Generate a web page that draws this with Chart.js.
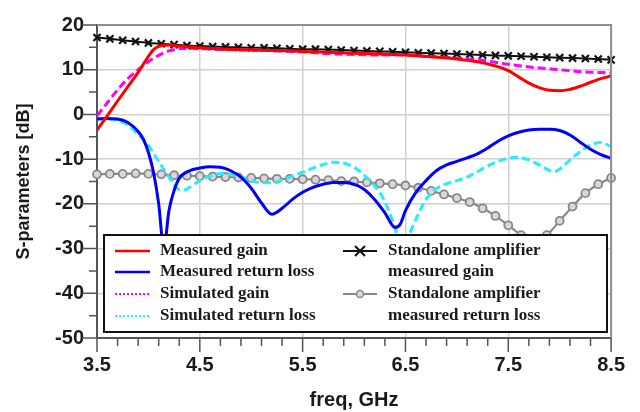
<!DOCTYPE html>
<html>
<head>
<meta charset="utf-8">
<script src="https://cdn.jsdelivr.net/npm/chart.js@4.4.1/dist/chart.umd.min.js"></script>
<style>
  html, body { margin: 0; padding: 0; background: #fff; }
</style>
</head>
<body>
<canvas id="sparChart" width="640" height="412"></canvas>
<script>
// series names (legend order)
const seriesNames = ['Measured gain', 'Measured return loss', 'Simulated gain', 'Simulated return loss',
  'Standalone amplifier measured gain', 'Standalone amplifier measured return loss'];

// measured gain (red)
const gainFreq = [3.5, 3.6, 3.7, 3.8, 3.9, 4.0, 4.05, 4.1, 4.2, 4.3, 4.5, 4.75, 5.0, 5.25, 5.5, 5.75, 6.0, 6.25, 6.5, 6.75,
  7.0, 7.2, 7.35, 7.5, 7.6, 7.7, 7.8, 7.9, 8.0, 8.1, 8.2, 8.3, 8.4, 8.5];
const gainMeas = [-3.5, -0.3, 3.0, 6.2, 9.4, 13.0, 14.5, 15.2, 15.5, 15.3, 14.9, 14.6, 14.4, 14.3, 14.1, 13.9, 13.7, 13.5, 13.3, 12.9,
  12.4, 11.8, 11.0, 9.8, 8.4, 7.0, 6.0, 5.4, 5.3, 5.6, 6.3, 7.2, 8.0, 8.6];

// measured return loss (blue)
const rlFreq = [3.5, 3.6, 3.7, 3.8, 3.9, 3.95, 4.0, 4.05, 4.1, 4.15, 4.2, 4.25, 4.3, 4.4, 4.5, 4.6, 4.7, 4.8, 4.9, 5.0,
  5.1, 5.2, 5.3, 5.4, 5.5, 5.6, 5.7, 5.8, 5.9, 6.0, 6.1, 6.2, 6.3, 6.4, 6.45, 6.5, 6.6, 6.7, 6.8, 6.9,
  7.0, 7.1, 7.2, 7.3, 7.4, 7.5, 7.6, 7.7, 7.8, 7.9, 8.0, 8.1, 8.2, 8.3, 8.4, 8.5];
const rlMeas = [-1.0, -0.9, -1.0, -1.8, -3.8, -5.5, -8.5, -13.0, -20.0, -30.0, -21.5, -17.0, -14.3, -12.6, -12.0, -11.7, -11.8, -12.6, -14.0, -16.5,
  -19.8, -22.3, -21.0, -19.0, -17.4, -16.3, -15.6, -15.2, -15.2, -15.6, -16.8, -19.0, -22.0, -25.3, -24.5, -21.5, -17.5, -14.8, -12.6, -11.3,
  -10.5, -9.7, -8.8, -7.5, -6.0, -4.8, -4.0, -3.5, -3.3, -3.3, -3.6, -4.6, -6.2, -7.8, -9.0, -9.8];

// simulated gain (magenta)
const simGainFreq = [3.5, 3.6, 3.7, 3.8, 3.9, 4.0, 4.1, 4.2, 4.3, 4.4, 4.5, 4.75, 5.0, 5.25, 5.5, 5.75, 6.0, 6.25, 6.5, 6.75,
  7.0, 7.25, 7.5, 7.75, 8.0, 8.25, 8.5];
const simGain = [-0.3, 2.6, 5.5, 8.0, 10.0, 11.8, 13.2, 14.2, 14.7, 14.8, 14.7, 14.5, 14.4, 14.2, 14.0, 13.6, 13.4, 13.3, 13.3, 12.9,
  12.6, 12.1, 11.2, 10.5, 10.0, 9.5, 9.3];

// simulated return loss (cyan)
const simRlFreq = [3.5, 3.6, 3.7, 3.8, 3.9, 4.0, 4.1, 4.2, 4.3, 4.35, 4.4, 4.5, 4.6, 4.7, 4.8, 4.9, 5.0, 5.1, 5.2, 5.3,
  5.4, 5.5, 5.6, 5.7, 5.8, 5.9, 6.0, 6.1, 6.2, 6.3, 6.4, 6.45, 6.5, 6.6, 6.7, 6.8, 6.9, 7.0, 7.1, 7.2,
  7.3, 7.4, 7.5, 7.6, 7.7, 7.8, 7.9, 7.95, 8.0, 8.1, 8.2, 8.3, 8.4, 8.5];
const simRl = [-1.0, -1.0, -1.3, -2.3, -4.5, -7.0, -10.5, -14.0, -16.8, -16.9, -16.3, -14.8, -13.8, -13.2, -13.4, -14.0, -14.8, -15.3, -15.3, -14.6,
  -13.8, -12.9, -12.0, -11.2, -10.7, -10.9, -11.8, -13.6, -16.0, -19.5, -25.5, -29.0, -28.5, -23.5, -19.0, -16.6, -15.5, -14.8, -14.0, -12.8,
  -11.5, -10.5, -9.8, -9.6, -10.2, -11.3, -12.5, -12.8, -12.2, -10.2, -8.3, -6.8, -6.3, -7.2];

// standalone amplifier (black X / grey circles), one marker per sample
const stdFreq = [3.5, 3.625, 3.75, 3.875, 4.0, 4.125, 4.25, 4.375, 4.5, 4.625, 4.75, 4.875, 5.0, 5.125, 5.25, 5.375, 5.5, 5.625, 5.75, 5.875,
  6.0, 6.125, 6.25, 6.375, 6.5, 6.625, 6.75, 6.875, 7.0, 7.125, 7.25, 7.375, 7.5, 7.625, 7.75, 7.875, 8.0, 8.125, 8.25, 8.375, 8.5];
const stdGain = [17.2, 16.9, 16.6, 16.3, 16.0, 15.8, 15.6, 15.4, 15.3, 15.2, 15.1, 15.0, 14.9, 14.9, 14.8, 14.7, 14.6, 14.6, 14.5, 14.4,
  14.3, 14.2, 14.1, 14.0, 13.9, 13.8, 13.7, 13.6, 13.5, 13.4, 13.3, 13.2, 13.1, 13.0, 12.9, 12.8, 12.7, 12.6, 12.5, 12.4, 12.2];
const stdRl = [-13.4, -13.3, -13.3, -13.2, -13.3, -13.4, -13.6, -13.7, -13.8, -13.9, -14.0, -14.1, -14.2, -14.3, -14.4, -14.4, -14.5, -14.6, -14.7, -14.9,
  -15.0, -15.2, -15.4, -15.6, -15.9, -16.4, -17.1, -17.9, -18.7, -19.6, -21.0, -22.7, -24.8, -27.0, -28.8, -27.0, -23.8, -20.6, -17.6, -15.6, -14.2];

// axis ticks
const xTickVals = [3.5, 4.5, 5.5, 6.5, 7.5, 8.5];
const yMin = -50, yMax = 20, yStep = 10;

const toPoints = (xs, ys) => xs.map((x, i) => ({ x: x, y: ys[i] }));

function line(label, xs, ys, color, extra) {
  return Object.assign({
    label: label,
    data: toPoints(xs, ys),
    borderColor: color,
    backgroundColor: color,
    borderWidth: 3,
    pointRadius: 0,
    fill: false,
    cubicInterpolationMode: 'monotone'
  }, extra || {});
}

// legend box, frame and minor ticks
const chartExtras = {
  id: 'chartExtras',
  afterDraw(chart) {
    const ctx = chart.ctx;
    const a = chart.chartArea;
    const xs = chart.scales.x, ys = chart.scales.y;
    ctx.save();

    // top and right edge of the plot box
    ctx.strokeStyle = '#8e8e8e';
    ctx.lineWidth = 2;
    ctx.beginPath();
    ctx.moveTo(a.left, a.top);
    ctx.lineTo(a.right, a.top);
    ctx.lineTo(a.right, a.bottom);
    ctx.stroke();

    // tick marks, outside
    ctx.strokeStyle = '#555';
    ctx.lineWidth = 1.5;
    ctx.beginPath();
    for (let i = 0; i <= 25; i++) {
      const px = xs.getPixelForValue(3.5 + i * 0.2);
      ctx.moveTo(px, a.bottom);
      ctx.lineTo(px, a.bottom + (i % 5 === 0 ? 14 : 8));
    }
    for (let v = yMin; v <= yMax; v += 5) {
      const py = ys.getPixelForValue(v);
      ctx.moveTo(a.left - (v % 10 === 0 ? 15 : 8), py);
      ctx.lineTo(a.left, py);
    }
    ctx.stroke();

    // legend
    const bx = 104, by = 235, bw = 503, bh = 97;
    ctx.fillStyle = '#fff';
    ctx.fillRect(bx, by, bw, bh);
    ctx.strokeStyle = '#111';
    ctx.lineWidth = 2;
    ctx.strokeRect(bx, by, bw, bh);

    const rows = [251, 272, 294, 316];
    ctx.font = 'bold 17px "Liberation Serif", "Times New Roman", serif';
    ctx.textBaseline = 'middle';
    ctx.textAlign = 'left';

    const leftSamples = [
      { color: '#ff0000', dash: [] },
      { color: '#0000ff', dash: [] },
      { color: '#ff00ff', dash: [2, 2] },
      { color: '#00ffff', dash: [2, 2] }
    ];
    leftSamples.forEach((s, i) => {
      ctx.strokeStyle = s.color;
      ctx.lineWidth = s.dash.length ? 2 : 2.5;
      ctx.setLineDash(s.dash);
      ctx.beginPath();
      ctx.moveTo(115, rows[i]);
      ctx.lineTo(150, rows[i]);
      ctx.stroke();
      ctx.setLineDash([]);
      ctx.fillStyle = '#1a1a1a';
      ctx.fillText(seriesNames[i], 160, rows[i]);
    });

    // right column: black X and grey circle
    ctx.strokeStyle = '#111';
    ctx.lineWidth = 2;
    ctx.beginPath();
    ctx.moveTo(343, rows[0]); ctx.lineTo(377, rows[0]);
    ctx.moveTo(355, rows[0] - 5); ctx.lineTo(365, rows[0] + 5);
    ctx.moveTo(355, rows[0] + 5); ctx.lineTo(365, rows[0] - 5);
    ctx.stroke();

    ctx.strokeStyle = '#8a8a8a';
    ctx.beginPath();
    ctx.moveTo(343, rows[2]); ctx.lineTo(377, rows[2]);
    ctx.stroke();
    ctx.beginPath();
    ctx.arc(360, rows[2], 3.5, 0, Math.PI * 2);
    ctx.fillStyle = '#d8d8d8';
    ctx.fill();
    ctx.lineWidth = 1.5;
    ctx.stroke();

    ctx.fillStyle = '#1a1a1a';
    ctx.fillText('Standalone amplifier', 388, rows[0]);
    ctx.fillText('measured gain', 388, rows[1]);
    ctx.fillText('Standalone amplifier', 388, rows[2]);
    ctx.fillText('measured return loss', 388, rows[3]);

    ctx.restore();
  }
};

Chart.defaults.font.family = '"Liberation Sans", Arial, sans-serif';
Chart.defaults.color = '#1a1a1a';

const ctx = document.getElementById('sparChart').getContext('2d');
const sparChart = new Chart(ctx, {
  type: 'line',
  data: {
    datasets: [
      line(seriesNames[0], gainFreq, gainMeas, '#ff0000'),
      line(seriesNames[1], rlFreq, rlMeas, '#0000ff'),
      line(seriesNames[2], simGainFreq, simGain, '#ff00ff', { borderDash: [8, 4] }),
      line(seriesNames[3], simRlFreq, simRl, '#22eeff', { borderDash: [8, 4] }),
      line(seriesNames[4], stdFreq, stdGain, '#111111', {
        borderWidth: 2, pointRadius: 5, pointStyle: 'crossRot',
        pointBorderWidth: 2.2, pointBorderColor: '#111111', clip: false
      }),
      line(seriesNames[5], stdFreq, stdRl, '#888888', {
        borderWidth: 2.2, pointRadius: 4, pointStyle: 'circle',
        pointBorderWidth: 1.8, pointBorderColor: '#888888', pointBackgroundColor: '#d8d8d8', clip: false
      })
    ]
  },
  options: {
    responsive: false,
    animation: false,
    layout: { padding: { left: 5, top: 22, right: 27, bottom: 0 } },
    plugins: {
      legend: { display: false },
      tooltip: { enabled: false }
    },
    scales: {
      x: {
        type: 'linear',
        min: 3.5,
        max: 8.5,
        afterBuildTicks: (scale) => { scale.ticks = xTickVals.map(v => ({ value: v })); },
        afterFit: (scale) => { scale.height = 74; },
        grid: { color: '#d0d0d0', lineWidth: 1.5, drawTicks: false },
        border: { color: '#555', width: 2 },
        ticks: {
          padding: 15,
          maxRotation: 0,
          font: { size: 20, weight: 'bold' },
          callback: (v) => Number(v).toFixed(1)
        },
        title: {
          display: true,
          text: 'freq, GHz',
          font: { size: 20, weight: 'bold' },
          padding: { top: 0, bottom: 0 }
        }
      },
      y: {
        min: yMin,
        max: yMax,
        afterFit: (scale) => { scale.width = 92; },
        grid: { color: '#d0d0d0', lineWidth: 1.5, drawTicks: false },
        border: { color: '#555', width: 2 },
        ticks: {
          stepSize: yStep,
          padding: 13,
          font: { size: 20, weight: 'bold' }
        },
        title: {
          display: true,
          text: 'S-parameters [dB]',
          font: { size: 18, weight: 'bold' },
          padding: { top: 8, bottom: 0 }
        }
      }
    }
  },
  plugins: [chartExtras]
});
</script>
</body>
</html>
